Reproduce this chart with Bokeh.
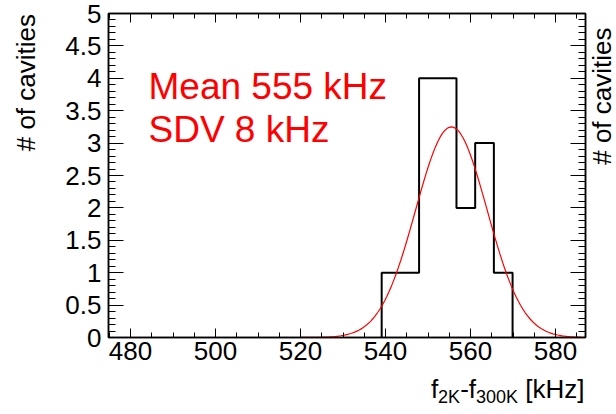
import numpy as np
from bokeh.plotting import figure
from bokeh.models import (Range1d, LinearAxis, FixedTicker, NumeralTickFormatter,
                          ColumnDataSource, CustomJSTickFormatter)
from bokeh.core.properties import value
from bokeh.embed import file_html
from bokeh.resources import INLINE

# ---------------- data ----------------
bin_edges = [539.1, 543.5, 547.9, 552.3, 556.7, 561.1, 565.5, 569.9]
bin_counts = [1, 1, 4, 4, 2, 3, 1]
fit_amplitude = 3.25
fit_mean = 555.5
fit_sigma = 8.4
fit_x_min, fit_x_max = 479.0, 587.0
x_major_ticks = [480, 500, 520, 540, 560, 580]
y_major_ticks = [0, 0.5, 1, 1.5, 2, 2.5, 3, 3.5, 4, 4.5, 5]
stat_lines = ["Mean 555 kHz", "SDV 8 kHz"]
y_title = "# of cavities"
x_title_parts = [("f", "main"), ("2K", "sub"), ("-f", "main"), ("300K", "sub"), ("[kHz]", "main")]

# ---------------- layout ----------------
W, H = 616, 414
FL, FR, FT, FB = 108, 585, 13, 337
PX_PER_KHZ = 4.25
X0 = 480 - (130 - FL) / PX_PER_KHZ
X1 = X0 + (FR - FL) / PX_PER_KHZ
Y0, Y1 = 0.0, 5.0
FONT = "Liberation Sans"
BASE_K = 0.37   # empirical shift between requested and drawn baseline

def to_data(px, py):
    """canvas pixel -> data coordinates"""
    x = X0 + (px - FL) / (FR - FL) * (X1 - X0)
    y = Y0 + (FB - py) / (FB - FT) * (Y1 - Y0)
    return x, y

p = figure(width=W, height=H, output_backend="svg", toolbar_location=None,
           x_range=Range1d(X0, X1), y_range=Range1d(Y0, Y1),
           x_axis_location=None, y_axis_location=None,
           min_border_left=FL, min_border_right=W - FR,
           min_border_top=FT, min_border_bottom=H - FB)
p.grid.visible = False
p.outline_line_color = "black"
p.outline_line_width = 1.5
p.background_fill_color = "white"
p.border_fill_color = "white"

x_minor = list(np.arange(475, 590, 5.0))
y_minor = list(np.round(np.arange(0, 5.01, 0.1), 2))

def style_axis(ax, major_len, minor_len, show_labels):
    ax.major_tick_in = major_len
    ax.major_tick_out = 0
    ax.minor_tick_in = minor_len
    ax.minor_tick_out = 0
    ax.axis_line_width = 1.5
    ax.axis_line_color = "black"
    ax.major_tick_line_color = "black"
    ax.minor_tick_line_color = "black"
    ax.major_tick_line_width = 1
    ax.minor_tick_line_width = 1
    if show_labels:
        ax.major_label_text_font = FONT
        ax.major_label_text_font_size = "26px"
        ax.major_label_text_color = "black"
    else:
        ax.formatter = CustomJSTickFormatter(code="return ''")
        ax.major_label_text_font_size = "1px"
        ax.major_label_standoff = 0

bottom = LinearAxis(ticker=FixedTicker(ticks=x_major_ticks, minor_ticks=x_minor))
style_axis(bottom, 9, 5, True)
bottom.major_label_standoff = 4
top = LinearAxis(ticker=FixedTicker(ticks=x_major_ticks, minor_ticks=x_minor))
style_axis(top, 9, 5, False)
left = LinearAxis(ticker=FixedTicker(ticks=y_major_ticks, minor_ticks=y_minor),
                  formatter=NumeralTickFormatter(format="0.[0]"))
style_axis(left, 15, 7, True)
left.major_label_standoff = 7
right = LinearAxis(ticker=FixedTicker(ticks=y_major_ticks, minor_ticks=y_minor))
style_axis(right, 15, 7, False)

p.add_layout(bottom, "below")
p.add_layout(top, "above")
p.add_layout(left, "left")
p.add_layout(right, "right")

# ---------------- histogram ----------------
hx, hy = [bin_edges[0]], [0]
for i, c in enumerate(bin_counts):
    hx += [bin_edges[i], bin_edges[i + 1]]
    hy += [c, c]
hx.append(bin_edges[-1])
hy.append(0)
p.line(hx, hy, line_color="black", line_width=2)

# ---------------- gaussian fit ----------------
fx = np.linspace(fit_x_min, fit_x_max, 200)
fy = fit_amplitude * np.exp(-0.5 * ((fx - fit_mean) / fit_sigma) ** 2)
p.line(fx, fy, line_color="red", line_width=1.2)

# ---------------- texts ----------------
def add_text(px, py, txt, size, color="black", align="left", vertical=False):
    """px, py: wanted baseline point in canvas pixels"""
    shift = BASE_K * size
    if vertical:
        px -= shift
        angle = np.pi / 2
    else:
        py -= shift
        angle = 0.0
    tx, ty = to_data(px, py)
    src = ColumnDataSource(dict(x=[tx], y=[ty], t=[txt]))
    p.text(x="x", y="y", text="t", source=src, angle=angle,
           text_font=value(FONT), text_font_size=value(f"{size}px"),
           text_color=color, text_align=align, text_baseline="alphabetic",
           level="overlay")

for line, base in zip(stat_lines, [100, 143]):
    add_text(148, base, line, 37, color="red")

add_text(35, 13.5, y_title, 26, align="right", vertical=True)
add_text(611, 27, y_title, 26, align="right", vertical=True)

# x title built from pieces (subscripts), right-aligned at the frame's right end
widths = {"f": 0.278, "2": 0.556, "K": 0.667, "-": 0.333, "3": 0.556, "0": 0.556,
          " ": 0.278, "[": 0.278, "k": 0.5, "H": 0.722, "z": 0.5, "]": 0.278}
MAIN, SUB = 26, 18
GAP = widths[" "] * MAIN
def seg_w(s, kind):
    return sum(widths[c] for c in s) * (MAIN if kind == "main" else SUB)
total = sum(seg_w(s, k) for s, k in x_title_parts) + GAP
cx = 584 - total
for i, (s, k) in enumerate(x_title_parts):
    if i == len(x_title_parts) - 1:
        cx += GAP
    base = 398 if k == "main" else 403
    add_text(cx, base, s, MAIN if k == "main" else SUB)
    cx += seg_w(s, k)

open("out.html", "w").write(file_html(p, INLINE))
